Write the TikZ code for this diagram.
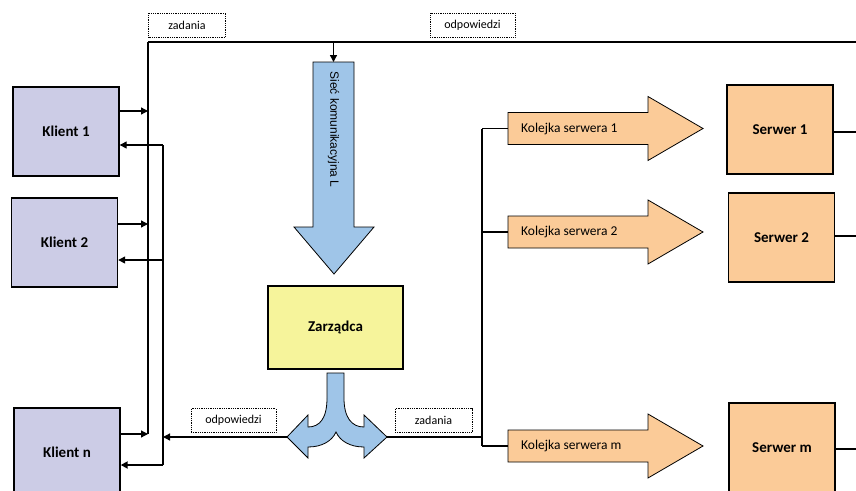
\documentclass[tikz,border=0pt]{standalone}
\usepackage{fontspec}
\setmainfont{Carlito}
\newfontfamily\arialfont{Liberation Sans}
\usetikzlibrary{arrows.meta}
\definecolor{clientfill}{HTML}{CCCCE6}
\definecolor{serverfill}{HTML}{FBCB98}
\definecolor{mgrfill}{HTML}{F6F49B}
\definecolor{bluefill}{HTML}{9FC5E8}
\tikzset{
  box/.style={draw=black, line width=1.4pt, minimum width=106pt, minimum height=89pt, inner sep=0pt, font=\bfseries\fontsize{15}{16}\selectfont},
  client/.style={box, fill=clientfill},
  server/.style={box, fill=serverfill},
  mgr/.style={box, fill=mgrfill, minimum width=135pt, minimum height=83pt},
  tag/.style={draw=black, densely dotted, line width=0.8pt, fill=white, inner sep=0pt, minimum height=24pt, font=\fontsize{12}{13}\selectfont},
  bigarrow/.style={draw=black, line width=0.8pt},
  qtext/.style={anchor=west, inner sep=0pt, font=\fontsize{13.5}{14}\selectfont},
  wire/.style={draw=black, line width=1.3pt},
  thick wire/.style={draw=black, line width=2.4pt},
  tip/.style={-{Triangle[length=7pt,width=7pt]}},
}
\begin{document}
\begin{tikzpicture}[x=1pt,y=-1pt]
\useasboundingbox (0,0) rectangle (856,490);

% clients
\node[client] (k1) at (66,131.5) {Klient 1};
\node[client] (k2) at (64.5,242.5) {Klient 2};
\node[client] (kn) at (67,452.5) {Klient n};

% servers
\node[server] (s1) at (780,129.5) {Serwer 1};
\node[server] (s2) at (781.5,237.5) {Serwer 2};
\node[server] (sm) at (782,447.5) {Serwer m};

% manager
\node[mgr] (mgr) at (335.5,327.5) {Zarządca};

% labels
\node[tag, minimum width=77pt] (tz) at (187,25) {zadania};
\node[tag, minimum width=85pt] (to) at (472.5,25) {odpowiedzi};
\node[tag, minimum width=85pt] (bo) at (233.5,420.5) {odpowiedzi};
\node[tag, minimum width=77pt] (bz) at (433.5,420.5) {zadania};

% big blue network arrow
\path[bigarrow, fill=bluefill] (313,62) -- (354,62) -- (354,227) -- (374,227) -- (334,274) -- (294,227) -- (313,227) -- cycle;
\coordinate (nettop) at (333.5,62);
\node[rotate=-90, inner sep=0pt, font=\arialfont\fontsize{12}{13}\selectfont] (net) at (333.5,129.5) {Sieć komunikacyjna L};

% split arrow below manager
\path[bigarrow, fill=bluefill] (327,373) -- (327,398)
  .. controls (327,418) and (320,427) .. (308,427) -- (308,415) -- (287,437) -- (308,458) -- (308,447)
  .. controls (322,447) and (332,441) .. (336,432)
  .. controls (340,441) and (350,447) .. (364,447) -- (364,458) -- (387,437) -- (364,415) -- (364,427)
  .. controls (352,427) and (344,418) .. (344,398) -- (344,373) -- cycle;
\coordinate (splitL) at (287,437);
\coordinate (splitR) at (387,437);

% queue arrows
\foreach \n/\yc in {1/128.5, 2/232, m/446} {
  \path[bigarrow, fill=serverfill] (508,\yc-16) -- (648,\yc-16) -- (648,\yc-32) -- (703,\yc) -- (648,\yc+32) -- (648,\yc+16) -- (508,\yc+16) -- cycle;
  \coordinate (q\n) at (508,\yc);
  \node[qtext] (ql\n) at (521,\yc) {Kolejka serwera \n};
}

% top bus
\coordinate (busL) at (148,42);
\coordinate (busR) at (856,42);
\coordinate (busN) at (333.5,42);
\draw[thick wire] (busL) -- (busR);
\draw[wire, tip] (busN) -- (nettop);

% left bus (requests)
\coordinate (in1) at (148,111);
\coordinate (in2) at (148,224);
\coordinate (inn) at (148,434);
\draw[wire] (busL) -- (inn);
\draw[wire, tip] (k1.east |- in1) -- (in1);
\draw[wire, tip] (k2.east |- in2) -- (in2);
\draw[wire, tip] (kn.east |- inn) -- (inn);

% return bus (answers)
\coordinate (r1) at (163,145);
\coordinate (r2) at (163,260);
\coordinate (rn) at (163,465);
\coordinate (rin) at (163,437);
\draw[wire] (r1) -- (rn);
\draw[wire, tip] (r1) -- (k1.east |- r1);
\draw[wire, tip] (r2) -- (k2.east |- r2);
\draw[thick wire, tip] (rn) -- (kn.east |- rn);
\draw[wire, tip] (splitL) -- (rin);

% right distribution
\coordinate (d1) at (482,128.5);
\coordinate (d2) at (482,232);
\coordinate (dm) at (482,446);
\coordinate (dz) at (482,437);
\draw[thick wire] (splitR) -- (dz);
\draw[wire] (d1) -- (dm);
\draw[wire] (d1) -- (q1);
\draw[thick wire] (d2) -- (q2);
\draw[wire] (dm) -- (qm);

% server outputs
\coordinate (o1) at (856,132);
\coordinate (o2) at (856,236);
\coordinate (om) at (856,449);
\draw[thick wire] (s1.east |- o1) -- (o1);
\draw[wire] (s2.east |- o2) -- (o2);
\draw[thick wire] (sm.east |- om) -- (om);
\end{tikzpicture}
\end{document}
